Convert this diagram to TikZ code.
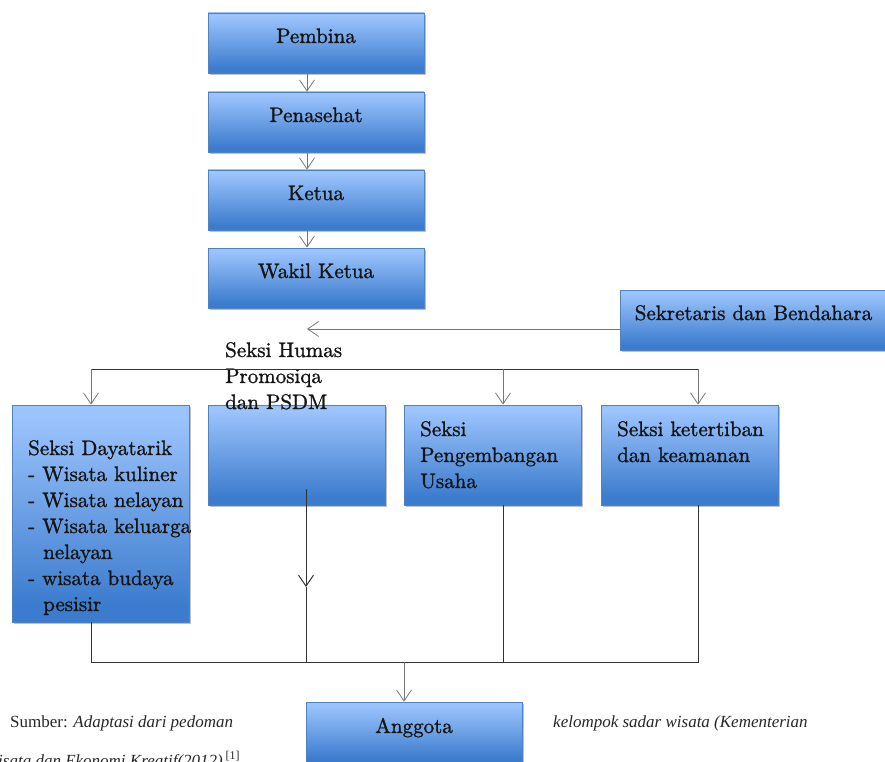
\documentclass[tikz,border=0pt]{standalone}
\usepackage{fontspec}
\usepackage{graphicx}
\newfontfamily\capfont{Liberation Serif}
\newfontfamily\unitface{lmroman10-regular.otf}[FakeBold=1.2]
\usepackage{tikz}
\usetikzlibrary{arrows.meta,shadows}

\definecolor{boxtop}{RGB}{155,195,252}
\definecolor{boxbot}{RGB}{60,124,206}
\definecolor{boxedge}{RGB}{80,130,192}
\definecolor{arrowgray}{RGB}{118,118,118}
\pgfdeclareverticalshading{unitshade}{100bp}{color(0bp)=(boxbot); color(29bp)=(boxbot); color(72bp)=(boxtop); color(100bp)=(boxtop)}
\newcommand\unitfont{\unitface\fontsize{21}{26}\selectfont}
\newcommand\capsize{\capfont\fontsize{17}{20}\selectfont}

\tikzset{
	unit/.style={draw=boxedge, line width=0.8pt, shade, shading=unitshade,
		drop shadow={shadow xshift=1.5pt, shadow yshift=-2pt, fill=black, opacity=0.25},
		inner sep=0pt, font=\unitfont, text=black!92, text height=7pt, text depth=7pt},
	sectext/.style={font=\unitfont, text=black!92, align=left, inner sep=0pt},
	garrow/.style={draw=arrowgray, line width=0.8pt, -{Straight Barb[length=11pt, width=15pt]}},
	bus/.style={draw=black!80, line width=1pt},
	caption/.style={font=\capsize, text=black!85, inner sep=0pt}
}

\begin{document}
\begin{tikzpicture}[x=1pt, y=-1pt]
	\useasboundingbox (0,0) rectangle (885,762);

	% top chain
	\node[unit, minimum width=216pt, minimum height=60pt] (pembina) at (316,43) {Pembina};
	\node[unit, minimum width=216pt, minimum height=60pt] (penasehat) at (316,122) {Penasehat};
	\node[unit, minimum width=216pt, minimum height=60pt] (ketua) at (316,200) {Ketua};
	\node[unit, minimum width=216pt, minimum height=60pt] (wakil) at (316,278) {Wakil Ketua};
	\node[unit, minimum width=267pt, minimum height=60pt] (sekretaris) at (753.5,320) {Sekretaris dan Bendahara};

	\draw[garrow] ([xshift=-9pt]pembina.south) -- ([xshift=-9pt]penasehat.north);
	\draw[garrow] ([xshift=-9pt]penasehat.south) -- ([xshift=-9pt]ketua.north);
	\draw[garrow] ([xshift=-9pt]ketua.south) -- ([xshift=-9pt]wakil.north);

	\coordinate (sekEnd) at (307,329);
	\draw[garrow] (sekretaris.west |- sekEnd) -- (sekEnd);

	% seksi boxes
	\node[unit, minimum width=177pt, minimum height=217pt] (dayatarik) at (100.5,513.5) {};
	\node[unit, minimum width=177pt, minimum height=100pt] (humas) at (296.5,455) {};
	\node[unit, minimum width=177pt, minimum height=100pt] (pengembangan) at (493,455) {};
	\node[unit, minimum width=177pt, minimum height=100pt] (ketertiban) at (689.5,455) {};

	% base of these nodes is the last line
	\node[sectext, anchor=base west] (dayatarikText) at (28,611) {Seksi Dayatarik\\- Wisata kuliner\\- Wisata nelayan\\- Wisata keluarga\\\hspace*{15pt}nelayan\\- wisata budaya\\\hspace*{15pt}pesisir};
	\node[sectext, anchor=base west] (humasText) at (225,409) {Seksi Humas\\Promosiqa\\dan PSDM};
	\node[sectext, anchor=base west] (pengembanganText) at (420,488) {Seksi\\Pengembangan\\Usaha};
	\node[sectext, anchor=base west] (ketertibanText) at (617,462) {Seksi ketertiban\\dan keamanan};

	% upper bus
	\coordinate (busL) at (91,369);
	\coordinate (busP) at (503,369);
	\coordinate (busR) at (698,369);
	\draw[bus] (busL) -- (busR);
	\draw[garrow] (busL) -- (busL |- dayatarik.north);
	\draw[garrow] (busP) -- (busP |- pengembangan.north);
	\draw[garrow] (busR) -- (busR |- ketertiban.north);

	% lower bus
	\coordinate (botL) at (91,662);
	\coordinate (botH) at (306,662);
	\coordinate (botP) at (503,662);
	\coordinate (botR) at (698,662);
	\coordinate (humasOut) at (306,489);
	\coordinate (humasMid) at (306,587);
	\draw[bus] (botL |- dayatarik.south) -- (botL) -- (botR) -- (botR |- ketertiban.south);
	\draw[bus] (botP |- pengembangan.south) -- (botP);
	\draw[bus, -{Straight Barb[length=11pt, width=15pt]}] (humasOut) -- (humasMid);
	\draw[bus] (humasMid) -- (botH);

	\node[unit, minimum width=216pt, minimum height=62pt] (anggota) at (414,733) {Anggota};
	\coordinate (botA) at (404,662);
	\draw[garrow] (botA) -- (botA |- anggota.north);

	% source note
	\node[caption, anchor=base west] (sumber) at (10,727) {Sumber: \textit{Adaptasi dari pedoman}};
	\node[caption, anchor=base west] (kelompok) at (553,727) {\textit{kelompok sadar wisata (Kementerian}};
	\node[caption, anchor=base west] (kreatif) at (-2,766) {\textit{isata dan Ekonomi Kreatif(2012)}\,\textsuperscript{[1]}};
\end{tikzpicture}
\end{document}
